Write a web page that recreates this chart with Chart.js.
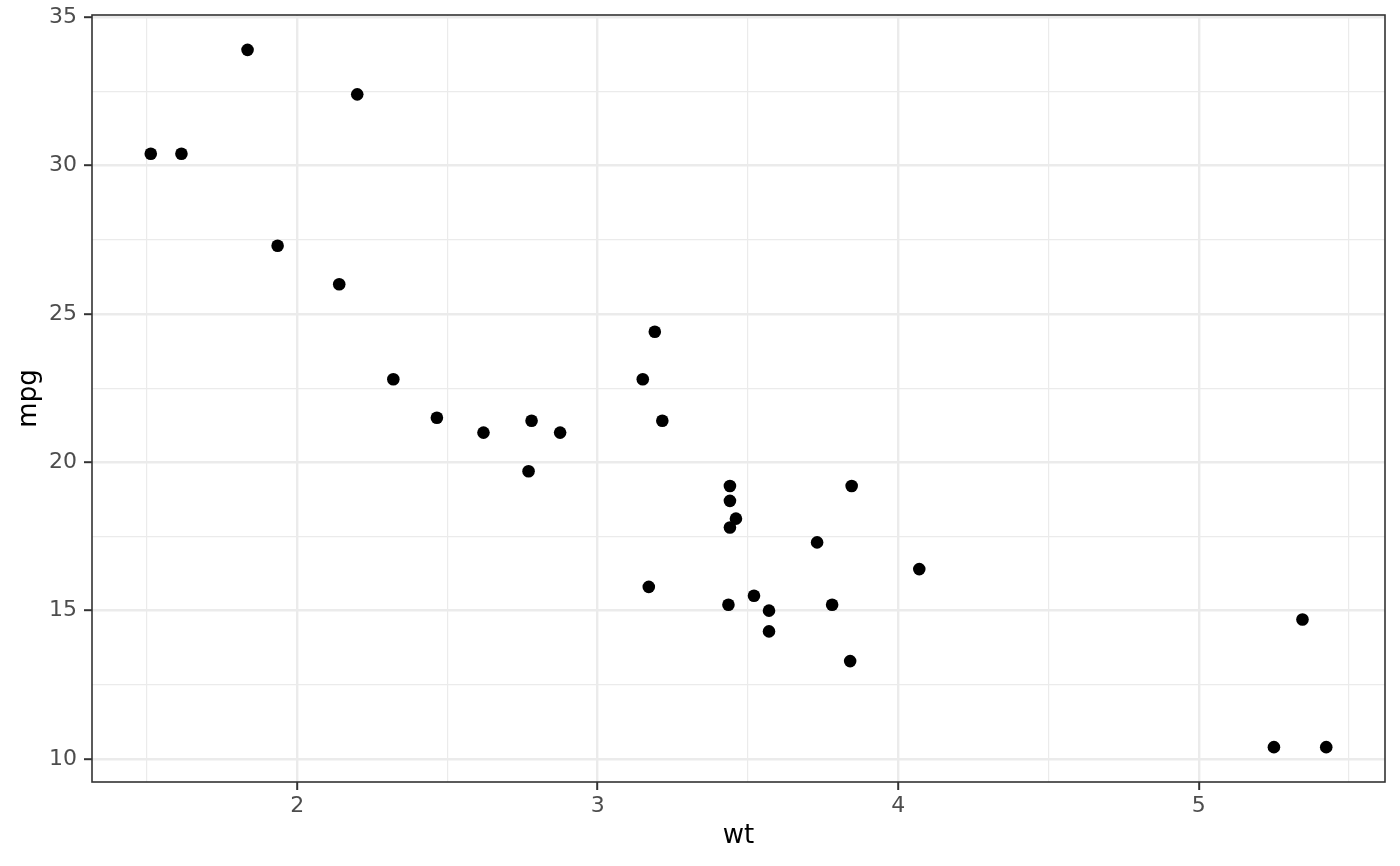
<!DOCTYPE html>
<html>
<head>
<meta charset="utf-8">
<script src="https://cdn.jsdelivr.net/npm/chart.js@4"></script>
<style>
  html, body { margin: 0; padding: 0; background: #fff; }
  #wrap { width: 1400px; height: 866px; }
</style>
</head>
<body>
<div id="wrap"><canvas id="scatterChart"></canvas></div>
<script>
// mtcars: weight (1000 lbs) vs miles per gallon
const wt = [2.620, 2.875, 2.320, 3.215, 3.440, 3.460, 3.570, 3.190, 3.150, 3.440, 3.440,
            4.070, 3.730, 3.780, 5.250, 5.424, 5.345, 2.200, 1.615, 1.835, 2.465, 3.520,
            3.435, 3.840, 3.845, 1.935, 2.140, 1.513, 3.170, 2.770, 3.570, 2.780];
const mpg = [21.0, 21.0, 22.8, 21.4, 18.7, 18.1, 14.3, 24.4, 22.8, 19.2, 17.8,
             16.4, 17.3, 15.2, 10.4, 10.4, 14.7, 32.4, 30.4, 33.9, 21.5, 15.5,
             15.2, 13.3, 19.2, 27.3, 26.0, 30.4, 15.8, 19.7, 15.0, 21.4];

const xMajor = [2, 3, 4, 5];
const xMinor = [1.5, 2.5, 3.5, 4.5, 5.5];
const yMajor = [10, 15, 20, 25, 30, 35];
const yMinor = [12.5, 17.5, 22.5, 27.5, 32.5];

// ggplot-style 5% expansion of the data range
function expand(vals) {
    const lo = Math.min(...vals), hi = Math.max(...vals);
    const pad = (hi - lo) * 0.05;
    return [lo - pad, hi + pad];
}
const xRange = expand(wt);
const yRange = expand(mpg);

const points = wt.map((w, i) => ({ x: w, y: mpg[i] }));

function setTicks(major, minor) {
    return function (scale) {
        scale.ticks = major.concat(minor).sort((a, b) => a - b).map(v => ({ value: v }));
    };
}
const isMajor = (list, v) => list.some(m => Math.abs(m - v) < 1e-9);

// panel border drawn over everything, like theme_bw
const panelBorder = {
    id: 'panelBorder',
    afterDraw(chart) {
        const a = chart.chartArea;
        const c = chart.ctx;
        c.save();
        c.strokeStyle = '#333333';
        c.lineWidth = 1.6;
        c.strokeRect(a.left, a.top, a.right - a.left, a.bottom - a.top);
        c.restore();
    }
};

const tickFont = { family: 'DejaVu Sans', size: 22 };
const titleFont = { family: 'DejaVu Sans', size: 26 };

var ctx = document.getElementById('scatterChart').getContext('2d');
var chart = new Chart(ctx, {
    type: 'scatter',
    data: {
        datasets: [{
            data: points,
            backgroundColor: '#000000',
            borderWidth: 0,
            pointRadius: 6.3,
            pointHoverRadius: 6.3
        }]
    },
    options: {
        responsive: true,
        maintainAspectRatio: false,
        animation: false,
        layout: { padding: { top: 15, right: 15, left: 0, bottom: 0 } },
        plugins: {
            legend: { display: false },
            tooltip: { enabled: false }
        },
        scales: {
            x: {
                type: 'linear',
                min: xRange[0],
                max: xRange[1],
                afterBuildTicks: setTicks(xMajor, xMinor),
                afterFit: function (scale) {
                    scale.height = 84;
                    scale.paddingLeft = 0;
                    scale.paddingRight = 0;
                },
                border: { display: false },
                grid: {
                    color: '#EBEBEB',
                    lineWidth: c => isMajor(xMajor, c.tick.value) ? 2.4 : 1.2,
                    tickColor: c => isMajor(xMajor, c.tick.value) ? '#333333' : 'rgba(0,0,0,0)',
                    tickLength: 8,
                    tickWidth: 2
                },
                ticks: {
                    autoSkip: false,
                    maxRotation: 0,
                    padding: 3,
                    color: '#4D4D4D',
                    font: tickFont,
                    callback: v => isMajor(xMajor, v) ? String(v) : ''
                },
                title: {
                    display: true,
                    text: 'wt',
                    color: '#000000',
                    font: titleFont,
                    padding: { top: 14, bottom: 14 }
                }
            },
            y: {
                type: 'linear',
                min: yRange[0],
                max: yRange[1],
                afterBuildTicks: setTicks(yMajor, yMinor),
                afterFit: function (scale) {
                    scale.width = 92;
                    scale.paddingTop = 0;
                    scale.paddingBottom = 0;
                },
                border: { display: false },
                grid: {
                    color: '#EBEBEB',
                    lineWidth: c => isMajor(yMajor, c.tick.value) ? 2.4 : 1.2,
                    tickColor: c => isMajor(yMajor, c.tick.value) ? '#333333' : 'rgba(0,0,0,0)',
                    tickLength: 8,
                    tickWidth: 2
                },
                ticks: {
                    autoSkip: false,
                    padding: 7,
                    color: '#4D4D4D',
                    font: tickFont,
                    callback: v => isMajor(yMajor, v) ? String(v) : ''
                },
                title: {
                    display: true,
                    text: 'mpg',
                    color: '#000000',
                    font: titleFont,
                    padding: { top: 14, bottom: 14 }
                }
            }
        }
    },
    plugins: [panelBorder]
});
</script>
</body>
</html>
